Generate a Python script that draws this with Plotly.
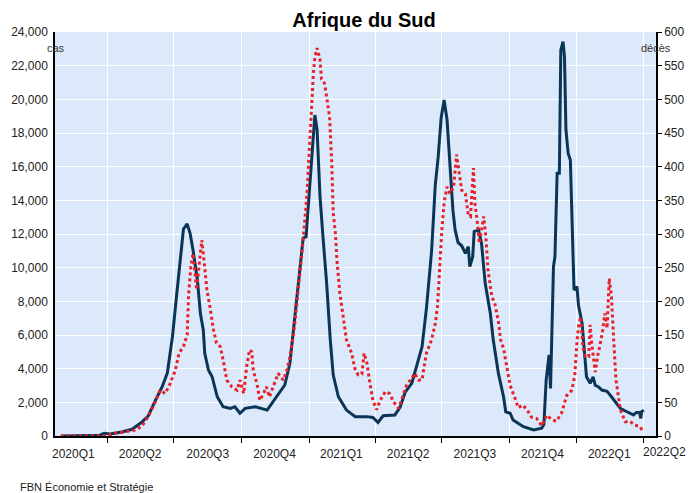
import pandas as pd
import plotly.graph_objects as go

# days counted from 2020-01-01
base_date = "2020-01-01"

# new cases (7-day average), left axis
case_days = [28, 81, 87, 95, 111, 125, 139, 147, 156, 166,
             173, 180, 185, 190, 195, 200, 204, 208, 211, 214,
             218, 222, 224, 229, 234, 241, 249, 259, 265, 272,
             279, 293, 309, 317, 333, 340, 347, 351, 358, 362,
             365, 370, 374, 377, 381, 385, 390, 395, 399, 406,
             417, 429, 445, 453, 460, 467, 483, 490, 497, 506,
             513, 520, 526, 533, 538, 542, 546, 550, 554, 558,
             562, 565, 569, 574, 579, 583, 585, 589, 591, 597,
             601, 606, 613, 617, 624, 631, 634, 640, 644, 658,
             672, 683, 686, 689, 693, 695, 699, 701, 704, 707,
             709, 712, 714, 716, 719, 722, 725, 727, 731, 733,
             738, 741, 744, 749, 753, 756, 760, 765, 772, 778,
             785, 790, 799, 808, 812, 816, 818, 819, 822]
cases = [0, 50, 160, 120, 240, 400, 850, 1190, 2040, 2930,
         3740, 5900, 8080, 10300, 12300, 12600, 12040, 11050, 10260, 9270,
         7290, 6300, 4910, 3920, 3520, 2330, 1740, 1640, 1740, 1350,
         1640, 1740, 1540, 2040, 3030, 4320, 7290, 8870, 11750, 11840,
         13620, 16590, 19070, 18180, 14220, 11840, 9090, 5700, 3620, 2330,
         1540, 1150, 1150, 1100, 800, 1200, 1250, 1700, 2600, 3130,
         4300, 5310, 7600, 11000, 14900, 16590, 18900, 19960, 18800, 16000,
         13430, 12240, 11500, 11300, 10850, 11250, 10060, 10650, 12140, 12240,
         11450, 9070, 7290, 5700, 3720, 2330, 1440, 1350, 950, 550,
         360, 460, 700, 3300, 4810, 2830, 10060, 10650, 15610, 15610,
         22930, 23430, 22530, 18180, 16800, 16400, 11840, 8670, 8870, 7800,
         6690, 5110, 3520, 3130, 3520, 3000, 2930, 2730, 2650, 2330,
         1940, 1640, 1440, 1250, 1400, 1400, 1050, 1440, 1540]

# deaths, right axis
death_days = [28, 88, 102, 115, 129, 138, 147, 156, 163, 170,
              177, 184, 189, 195, 200, 202, 205, 208, 211, 213,
              217, 220, 222, 227, 231, 236, 240, 245, 249, 254,
              261, 268, 272, 277, 281, 285, 288, 290, 295, 299,
              304, 308, 312, 317, 324, 331, 336, 340, 345, 349,
              354, 358, 363, 370, 372, 374, 377, 379, 381, 383,
              387, 390, 394, 397, 399, 402, 404, 408, 413, 417,
              424, 429, 433, 438, 441, 445, 449, 453, 458, 463,
              470, 476, 481, 488, 492, 499, 506, 510, 515, 520,
              522, 526, 533, 538, 541, 544, 547, 550, 554, 558,
              563, 567, 571, 574, 579, 583, 586, 590, 592, 595,
              598, 604, 607, 610, 615, 619, 624, 627, 631, 635,
              640, 647, 651, 657, 663, 669, 676, 683, 690, 697,
              703, 710, 717, 724, 728, 731, 733, 736, 739, 742,
              747, 749, 751, 756, 759, 762, 766, 769, 772, 775,
              778, 781, 784, 790, 797, 803, 810, 817, 821]
deaths = [0, 0, 4, 6, 9, 14, 29, 49, 68, 63,
          78, 98, 123, 133, 150, 210, 251, 271, 237, 217,
          261, 291, 271, 217, 192, 157, 138, 133, 113, 83,
          73, 68, 83, 63, 103, 128, 125, 98, 78, 53,
          63, 73, 58, 73, 93, 83, 98, 118, 152, 192,
          242, 291, 355, 504, 539, 563, 576, 568, 558, 530,
          524, 504, 474, 405, 331, 301, 261, 212, 172, 143,
          123, 98, 91, 92, 123, 108, 78, 53, 39, 53,
          66, 63, 51, 41, 53, 76, 86, 93, 83, 83,
          98, 123, 143, 167, 192, 251, 306, 346, 370, 360,
          370, 418, 390, 365, 360, 328, 326, 398, 345, 321,
          286, 326, 294, 245, 207, 197, 170, 143, 130, 103,
          75, 55, 42, 46, 39, 28, 26, 15, 31, 24,
          22, 34, 60, 68, 90, 140, 162, 177, 133, 118,
          118, 165, 138, 95, 118, 133, 157, 182, 160, 234,
          207, 143, 85, 39, 21, 22, 16, 14, 6]

quarter_starts = ["2020-04-01", "2020-07-01", "2020-10-01", "2021-01-01",
                  "2021-04-01", "2021-07-01", "2021-10-01", "2022-01-01", "2022-04-01"]
quarter_mids = ["2020-02-15", "2020-05-16", "2020-08-16", "2020-11-15", "2021-02-14",
                "2021-05-16", "2021-08-15", "2021-11-15", "2022-02-14"]
quarter_labels = ["2020Q1", "2020Q2", "2020Q3", "2020Q4", "2021Q1",
                  "2021Q2", "2021Q3", "2021Q4", "2022Q1"]
last_label = "2022Q2"

case_dates = pd.to_datetime(base_date) + pd.to_timedelta(case_days, unit="D")
death_dates = pd.to_datetime(base_date) + pd.to_timedelta(death_days, unit="D")

font_family = "Liberation Sans, Arial, sans-serif"

fig = go.Figure()

fig.add_trace(go.Scatter(
    x=case_dates,
    y=cases,
    mode='lines',
    name='cas',
    line=dict(color='#0b3556', width=3),
    yaxis='y'
))

fig.add_trace(go.Scatter(
    x=death_dates,
    y=deaths,
    mode='lines',
    name='décès',
    line=dict(color='#e8202a', width=3, dash='dot'),
    yaxis='y2'
))

# the page body adds an 8px offset, so the layout is shifted up/left by 8px
fig.update_layout(
    width=696,
    height=493,
    showlegend=False,
    paper_bgcolor='white',
    plot_bgcolor='#dce9fa',
    margin=dict(l=47, r=48, t=24, b=65),
    font=dict(family=font_family, size=12, color='#222222'),
    title=dict(
        text='<b>Afrique du Sud</b>',
        x=356 / 696,
        xref='container',
        xanchor='center',
        y=1 - 12 / 493,
        yanchor='middle',
        font=dict(size=20, color='black', family=font_family)
    ),
    xaxis=dict(
        type='date',
        range=['2020-01-21', '2022-04-18 16:00'],
        tickmode='array',
        tickvals=quarter_mids,
        ticktext=quarter_labels,
        ticks='',
        ticklabelstandoff=6,
        showgrid=False,
        showline=True,
        linecolor='black',
        linewidth=1.5,
        zeroline=False,
        automargin=False,
        tickfont=dict(size=12, color='#222222'),
        minor=dict(
            tickmode='array',
            tickvals=quarter_starts,
            ticks='outside',
            ticklen=5,
            tickcolor='black',
            showgrid=True,
            gridcolor='white',
            gridwidth=1.2
        )
    ),
    yaxis=dict(
        range=[0, 24000],
        dtick=2000,
        tickformat=',',
        showgrid=True,
        gridcolor='white',
        gridwidth=1.2,
        showline=True,
        linecolor='black',
        linewidth=1.5,
        ticks='outside',
        ticklen=3,
        tickcolor='rgba(0,0,0,0)',
        zeroline=False,
        automargin=False,
        tickfont=dict(size=12, color='#222222')
    ),
    yaxis2=dict(
        range=[0, 600],
        dtick=50,
        overlaying='y',
        side='right',
        showgrid=False,
        showline=True,
        linecolor='black',
        linewidth=1.5,
        ticks='outside',
        ticklen=4,
        tickcolor='black',
        zeroline=False,
        automargin=False,
        tickfont=dict(size=12, color='#222222')
    ),
    annotations=[
        dict(text='cas', xref='paper', yref='paper', x=0.002, y=(436 - 48) / 404,
             xanchor='center', yanchor='middle', showarrow=False,
             font=dict(size=11, color='#333333')),
        dict(text='décès', xref='paper', yref='paper', x=1.0, y=(436 - 48) / 404,
             xanchor='center', yanchor='middle', showarrow=False,
             font=dict(size=11, color='#333333')),
        dict(text=last_label, xref='paper', yref='paper', x=(664 - 55) / 601, y=(436 - 452) / 404,
             xanchor='center', yanchor='middle', showarrow=False,
             font=dict(size=12, color='#222222')),
        dict(text='FBN Économie et Stratégie', xref='paper', yref='paper',
             x=(18 - 55) / 601, y=(436 - 487) / 404,
             xanchor='left', yanchor='middle', showarrow=False,
             font=dict(size=11, color='#222222'))
    ]
)

fig.write_html("out.html")
